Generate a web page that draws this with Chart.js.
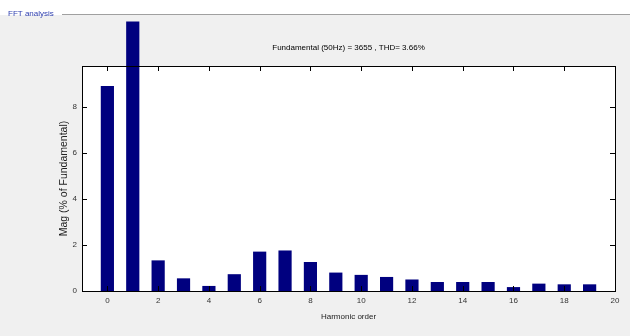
<!DOCTYPE html>
<html>
<head>
<meta charset="utf-8">
<script src="https://cdn.jsdelivr.net/npm/chart.js@4"></script>
<style>
  html, body { margin: 0; padding: 0; background: #f0f0f0; }
  canvas { display: block; }
</style>
</head>
<body>
<canvas id="fftChart" width="630" height="336"></canvas>
<script>
const harmonicOrder = [0, 1, 2, 3, 4, 5, 6, 7, 8, 9, 10, 11, 12, 13, 14, 15, 16, 17, 18, 19];
// fundamental (order 1) is 100% but the bar is cut where it leaves the figure
const magPercent = [8.9, 11.7, 1.33, 0.55, 0.22, 0.73, 1.71, 1.76, 1.26, 0.8, 0.7, 0.61, 0.5, 0.39, 0.39, 0.39, 0.17, 0.32, 0.29, 0.29];
const xTicks = [0, 2, 4, 6, 8, 10, 12, 14, 16, 18, 20];
const yTicks = [0, 2, 4, 6, 8];
const titleText = "Fundamental (50Hz) = 3655 , THD= 3.66%";
const panelText = "FFT analysis";

const canvasChart = document.getElementById("fftChart");

// grey figure, white axes, panel label, inward ticks like matlab
const matlabFrame = {
  id: "matlabFrame",
  beforeDraw(chart) {
    const { ctx, chartArea: a } = chart;
    ctx.save();
    ctx.fillStyle = "#ffffff";
    ctx.fillRect(0, 0, chart.width, 15);
    ctx.fillStyle = "#f0f0f0";
    ctx.fillRect(0, 15, chart.width, chart.height - 15);
    ctx.fillStyle = "#ffffff";
    ctx.fillRect(a.left, a.top, a.right - a.left, a.bottom - a.top);

    ctx.strokeStyle = "#a0a0a0";
    ctx.lineWidth = 1;
    ctx.beginPath();
    ctx.moveTo(62, 14.5);
    ctx.lineTo(chart.width, 14.5);
    ctx.stroke();
    ctx.font = "8px 'Liberation Sans'";
    ctx.fillStyle = "#3040b0";
    ctx.textBaseline = "middle";
    ctx.fillText(panelText, 8, 14);
    ctx.restore();
  },
  afterDraw(chart) {
    const { ctx, chartArea: a, scales } = chart;
    ctx.save();
    ctx.strokeStyle = "#000000";
    ctx.lineWidth = 1;
    ctx.strokeRect(a.left + 0.5, a.top + 0.5, a.right - a.left, a.bottom - a.top);
    ctx.beginPath();
    xTicks.forEach((v) => {
      const x = Math.round(scales.x.getPixelForValue(v)) + 0.5;
      ctx.moveTo(x, a.bottom);
      ctx.lineTo(x, a.bottom - 5);
      ctx.moveTo(x, a.top);
      ctx.lineTo(x, a.top + 5);
    });
    yTicks.forEach((v) => {
      const y = Math.round(scales.y.getPixelForValue(v)) + 0.5;
      ctx.moveTo(a.left, y);
      ctx.lineTo(a.left + 5, y);
      ctx.moveTo(a.right, y);
      ctx.lineTo(a.right - 5, y);
    });
    ctx.stroke();

    ctx.font = "8px 'Liberation Sans'";
    ctx.fillStyle = "#000000";
    ctx.textAlign = "center";
    ctx.textBaseline = "middle";
    ctx.fillText(titleText, (a.left + a.right) / 2, 48);
    ctx.restore();
  },
};

new Chart(canvasChart, {
  type: "bar",
  data: {
    labels: harmonicOrder,
    datasets: [
      {
        label: "Mag",
        data: harmonicOrder.map((h, i) => ({ x: h, y: magPercent[i] })),
        backgroundColor: "#00007f",
        borderWidth: 0,
        barPercentage: 0.65,
        categoryPercentage: 0.8,
        clip: false,
      },
    ],
  },
  options: {
    responsive: false,
    animation: false,
    devicePixelRatio: 1,
    layout: { padding: { top: 66, right: 15, left: 0, bottom: 0 } },
    plugins: {
      legend: { display: false },
      tooltip: { enabled: false },
    },
    scales: {
      x: {
        type: "linear",
        min: -1,
        max: 20,
        offset: false,
        grid: { display: false, drawTicks: false },
        border: { display: false },
        afterBuildTicks: (s) => {
          s.ticks = xTicks.map((v) => ({ value: v }));
        },
        afterFit: (s) => {
          s.height = 45;
        },
        ticks: {
          padding: 5,
          maxRotation: 0,
          color: "#333333",
          font: { family: "Liberation Sans", size: 8 },
        },
        title: {
          display: true,
          text: "Harmonic order",
          color: "#222222",
          padding: { top: 0, bottom: 14.6 },
          font: { family: "Liberation Sans", size: 8 },
        },
      },
      y: {
        min: 0,
        max: 9.77,
        grid: { display: false, drawTicks: false },
        border: { display: false },
        afterBuildTicks: (s) => {
          s.ticks = yTicks.map((v) => ({ value: v }));
        },
        afterFit: (s) => {
          s.width = 82;
        },
        ticks: {
          padding: 5,
          color: "#333333",
          font: { family: "Liberation Sans", size: 8 },
        },
        title: {
          display: true,
          text: "Mag (% of Fundamental)",
          color: "#222222",
          padding: { top: 57.6, bottom: 0 },
          font: { family: "Liberation Sans", size: 10.5 },
        },
      },
    },
  },
  plugins: [matlabFrame],
});
</script>
</body>
</html>
